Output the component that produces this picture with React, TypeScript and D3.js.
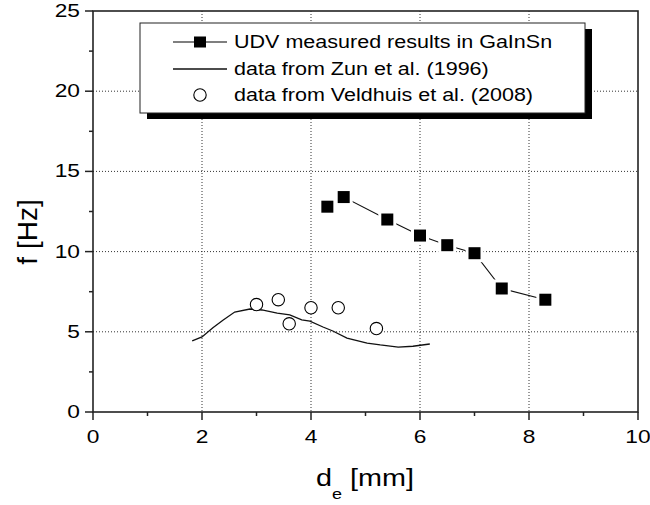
import React from "react";
import * as d3 from "d3";

const xTicks = [0, 2, 4, 6, 8, 10];
const xMinor = [1, 3, 5, 7, 9];
const yTicks = [0, 5, 10, 15, 20, 25];
const yMinor = [2.5, 7.5, 12.5, 17.5, 22.5];
const xGrid = [2, 4, 6, 8];
const yGrid = [5, 10, 15, 20];

const udvD = [4.3, 4.6, 5.4, 6.0, 6.5, 7.0, 7.5, 8.3];
const udvF = [12.8, 13.4, 12.0, 11.0, 10.4, 9.9, 7.7, 7.0];

const zunD = [1.82, 2.0, 2.2, 2.39, 2.6, 2.88, 3.1, 3.38, 3.61, 3.83, 3.98, 4.22, 4.4, 4.66, 5.03, 5.27, 5.6, 5.87, 6.18];
const zunF = [4.43, 4.68, 5.25, 5.74, 6.23, 6.42, 6.36, 6.17, 6.05, 5.74, 5.67, 5.3, 5.05, 4.61, 4.3, 4.18, 4.05, 4.1, 4.24];

const velD = [3.0, 3.4, 3.6, 4.0, 4.5, 5.2];
const velF = [6.7, 7.0, 5.5, 6.5, 6.5, 5.2];

const legendLabels = [
  "UDV measured results in GaInSn",
  "data from Zun et al. (1996)",
  "data from Veldhuis et al. (2008)",
];

const FONT = "'Liberation Sans', Arial, Helvetica, sans-serif";

function T(props: { x: number; y: number; size: number; sx: number; anchor?: string; children: React.ReactNode; rot?: boolean }) {
  const tr = props.rot
    ? `translate(${props.x},${props.y}) scale(${props.sx},1) rotate(-90)`
    : `translate(${props.x},${props.y}) scale(${props.sx},1)`;
  return (
    <text transform={tr} fontSize={props.size} textAnchor={props.anchor || "start"} fontFamily={FONT} fill="#000">
      {props.children}
    </text>
  );
}

export default function App() {
  const L = 93, R = 638, Tp = 11, B = 412;
  const x = d3.scaleLinear().domain([0, 10]).range([L, R]);
  const y = d3.scaleLinear().domain([0, 25]).range([B, Tp]);
  const zunLine = d3.line<number>().x((_, i) => x(zunD[i])).y((_, i) => y(zunF[i])).curve(d3.curveLinear);
  const udvLine = d3.line<number>().x((_, i) => x(udvD[i])).y((_, i) => y(udvF[i]));

  const lg = { x: 140, y: 23, w: 445, h: 90 };
  const rows = [42, 69, 95];

  return (
    <svg width={650} height={505} style={{ position: "absolute", left: 0, top: 0, background: "#fff" }}>
      <rect x={0} y={0} width={650} height={505} fill="#fff" />
      {/* grid */}
      {xGrid.map((v) => (
        <line key={"gx" + v} x1={x(v)} x2={x(v)} y1={Tp} y2={B} stroke="#333" strokeWidth={1} strokeDasharray="1,2" />
      ))}
      {yGrid.map((v) => (
        <line key={"gy" + v} x1={L} x2={R} y1={y(v)} y2={y(v)} stroke="#333" strokeWidth={1} strokeDasharray="1,2" />
      ))}
      {/* Zun line */}
      <path d={zunLine(zunD) || ""} fill="none" stroke="#111" strokeWidth={1.3} />
      {/* Veldhuis circles */}
      {velD.map((d, i) => (
        <circle key={"v" + i} cx={x(d)} cy={y(velF[i])} r={6.2} fill="#fff" stroke="#000" strokeWidth={1.1} />
      ))}
      {/* UDV */}
      <path d={udvLine(udvD) || ""} fill="none" stroke="#111" strokeWidth={1.1} />
      {udvD.map((d, i) => (
        <rect key={"uw" + i} x={x(d) - 9} y={y(udvF[i]) - 9} width={18} height={18} fill="#fff" />
      ))}
      {udvD.map((d, i) => (
        <rect key={"u" + i} x={x(d) - 6} y={y(udvF[i]) - 6} width={12} height={12} fill="#000" />
      ))}
      {/* legend */}
      <rect x={lg.x + 7} y={lg.y + 6} width={lg.w} height={lg.h} fill="#000" />
      <rect x={lg.x} y={lg.y} width={lg.w} height={lg.h} fill="#fff" stroke="#222" strokeWidth={1} />
      <line x1={173} x2={227} y1={rows[0]} y2={rows[0]} stroke="#000" strokeWidth={1.1} />
      <rect x={194} y={rows[0] - 5.5} width={12} height={11} fill="#000" />
      <line x1={173} x2={227} y1={rows[1]} y2={rows[1]} stroke="#111" strokeWidth={1.3} />
      <circle cx={200} cy={rows[2]} r={6.2} fill="#fff" stroke="#000" strokeWidth={1.1} />
      {legendLabels.map((t, i) => (
        <T key={"l" + i} x={234} y={rows[i] + 6} size={17.5} sx={1.23}>{t}</T>
      ))}
      {/* axes frame */}
      <rect x={L} y={Tp} width={R - L} height={B - Tp} fill="none" stroke="#222" strokeWidth={1.6} />
      {/* ticks */}
      {xTicks.map((v) => (
        <line key={"xt" + v} x1={x(v)} x2={x(v)} y1={B} y2={B + 8} stroke="#222" strokeWidth={1.5} />
      ))}
      {xMinor.map((v) => (
        <line key={"xm" + v} x1={x(v)} x2={x(v)} y1={B} y2={B + 4} stroke="#222" strokeWidth={1.5} />
      ))}
      {yTicks.map((v) => (
        <line key={"yt" + v} x1={L - 8} x2={L} y1={y(v)} y2={y(v)} stroke="#222" strokeWidth={1.5} />
      ))}
      {yMinor.map((v) => (
        <line key={"ym" + v} x1={L - 4} x2={L} y1={y(v)} y2={y(v)} stroke="#222" strokeWidth={1.5} />
      ))}
      {xTicks.map((v) => (
        <T key={"xl" + v} x={x(v)} y={443} size={17.5} sx={1.3} anchor="middle">{String(v)}</T>
      ))}
      {yTicks.map((v) => (
        <T key={"yl" + v} x={80} y={y(v) + 6} size={17.5} sx={1.3} anchor="end">{String(v)}</T>
      ))}
      {/* axis titles */}
      <text transform={`translate(365,486) scale(1.2,1)`} fontSize={24} textAnchor="middle" fontFamily={FONT}>
        <tspan>d</tspan>
        <tspan fontSize={15} dy={13}>e</tspan>
        <tspan dy={-13}> [mm]</tspan>
      </text>
      <T x={37} y={232} size={28} sx={1} anchor="middle" rot>f [Hz]</T>
    </svg>
  );
}
